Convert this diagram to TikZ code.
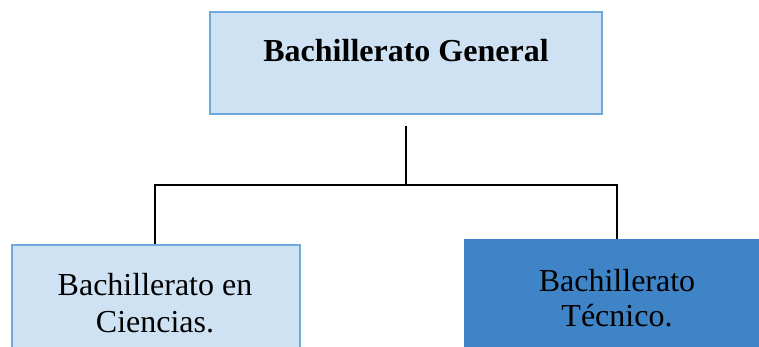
\documentclass[tikz,border=0pt]{standalone}
\usepackage{fontspec}
\setmainfont{Liberation Serif}
\definecolor{lightfill}{HTML}{CFE2F3}
\definecolor{lightedge}{HTML}{6FA8DC}
\definecolor{darkfill}{HTML}{3F84C6}
\begin{document}
\begin{tikzpicture}[x=1pt,y=1pt,
  lightbox/.style={draw=lightedge,line width=1.5pt,fill=lightfill,inner sep=0pt},
  darkbox/.style={draw=none,fill=darkfill,inner sep=0pt},
  label/.style={font=\fontsize{32}{36}\selectfont,anchor=base,inner sep=0pt},
  conn/.style={line width=1.4pt,black}]
\useasboundingbox (0,0) rectangle (759,-347);
\clip (0,0) rectangle (759,-347);
\node[lightbox,minimum width=392pt,minimum height=102pt] (top) at (406,-63) {};
\node[label,font=\fontsize{32}{36}\selectfont\bfseries] (toptext) at (406,-62) {Bachillerato General};
\node[lightbox,minimum width=288pt,minimum height=130pt,anchor=north west] (left) at (11,-244) {};
\node[label] (lefta) at (155,-295) {Bachillerato en};
\node[label] (leftb) at (155,-332) {Ciencias.};
\node[darkbox,minimum width=310pt,minimum height=130pt,anchor=north west] (right) at (464,-239) {};
\node[label] (righta) at (617,-291) {Bachillerato};
\node[label] (rightb) at (617,-326) {Técnico.};
\coordinate (j) at (406,-185);
\coordinate (ls) at (155,-244);
\coordinate (rs) at (617,-239);
\draw[conn] ([yshift=-11pt]top.south) -- (j);
\draw[conn] (ls) |- (j) -| (rs);
\end{tikzpicture}
\end{document}
